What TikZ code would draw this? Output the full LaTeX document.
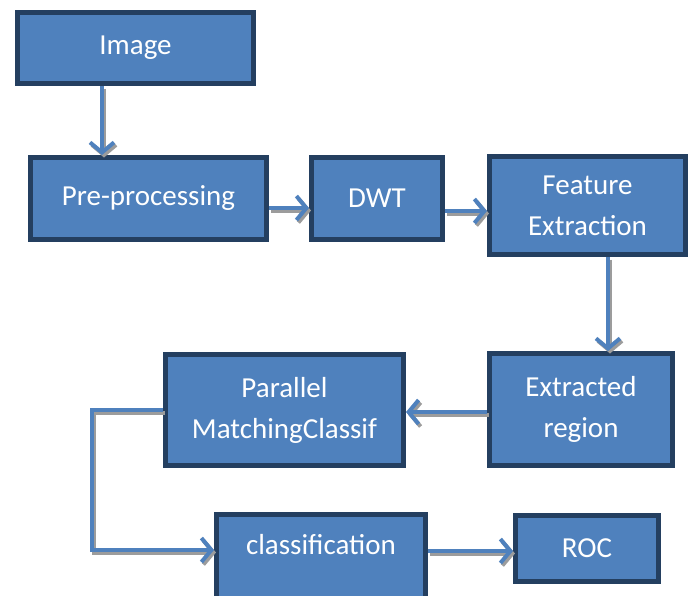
\documentclass[tikz,border=0pt]{standalone}
\usepackage{fontspec}
\setmainfont{Carlito}
\usetikzlibrary{arrows.meta}
\definecolor{fillblue}{HTML}{4F81BD}
\definecolor{edgeblue}{HTML}{243F60}
\definecolor{shadegray}{HTML}{9C9C9C}
\newcommand\shadedconn[1]{%
  \draw[conn, draw=shadegray, transform canvas={shift={(2pt,-2.5pt)}}] #1;
  \draw[conn] #1;}
\begin{document}
\begin{tikzpicture}[x=1pt,y=-1pt,
  box/.style={draw=edgeblue, fill=fillblue, line width=5pt, text=white,
    font=\fontsize{29}{41}\selectfont, align=center, inner sep=0pt},
  txt/.style={text=white, font=\fontsize{29}{41}\selectfont, align=center, inner sep=0pt},
  conn/.style={draw=fillblue, line width=4pt,
    -{Straight Barb[length=10pt,width=24pt]}},
]
\path[use as bounding box, clip] (0,0) rectangle (694,595);

\node[box, minimum width=236pt, minimum height=71pt] (img) at (135.5,48) {Image};
\node[box, minimum width=236pt, minimum height=82pt] (pre) at (148.5,198.5) {Pre-processing};
\node[box, minimum width=131pt, minimum height=82pt] (dwt) at (377,198.5) {DWT};
\node[box, minimum width=196pt, minimum height=98pt] (fe) at (587.5,205.5) {Feature\\Extraction};
\node[box, minimum width=183pt, minimum height=112pt] (er) at (581,409.5) {Extracted\\region};
\node[box, minimum width=238pt, minimum height=111pt] (par) at (284.5,410) {Parallel\\MatchingClassif};
\node[box, minimum width=209pt, minimum height=96pt] (cls) at (321,562.5) {};
\node[txt] (clst) at (321,545) {classification};
\node[box, minimum width=143pt, minimum height=66pt] (roc) at (587,548.5) {ROC};

\coordinate (v1) at (102,0);
\coordinate (h1) at (0,208);
\coordinate (h2) at (0,211);
\coordinate (v2) at (608,0);
\coordinate (h3) at (0,412);
\coordinate (k) at (92,0);
\coordinate (h4) at (0,550);
\coordinate (h5) at (0,551);

\shadedconn{(img.south -| v1) -- (pre.north -| v1)}
\shadedconn{(pre.east |- h1) -- (dwt.west |- h1)}
\shadedconn{(dwt.east |- h2) -- (fe.west |- h2)}
\shadedconn{(fe.south -| v2) -- (er.north -| v2)}
\shadedconn{(er.west |- h3) -- (par.east |- h3)}
\shadedconn{(par.west) -- (par.west -| k) -- (k |- h4) -- (cls.west |- h4)}
\shadedconn{(cls.east |- h5) -- (roc.west |- h5)}
\end{tikzpicture}
\end{document}
